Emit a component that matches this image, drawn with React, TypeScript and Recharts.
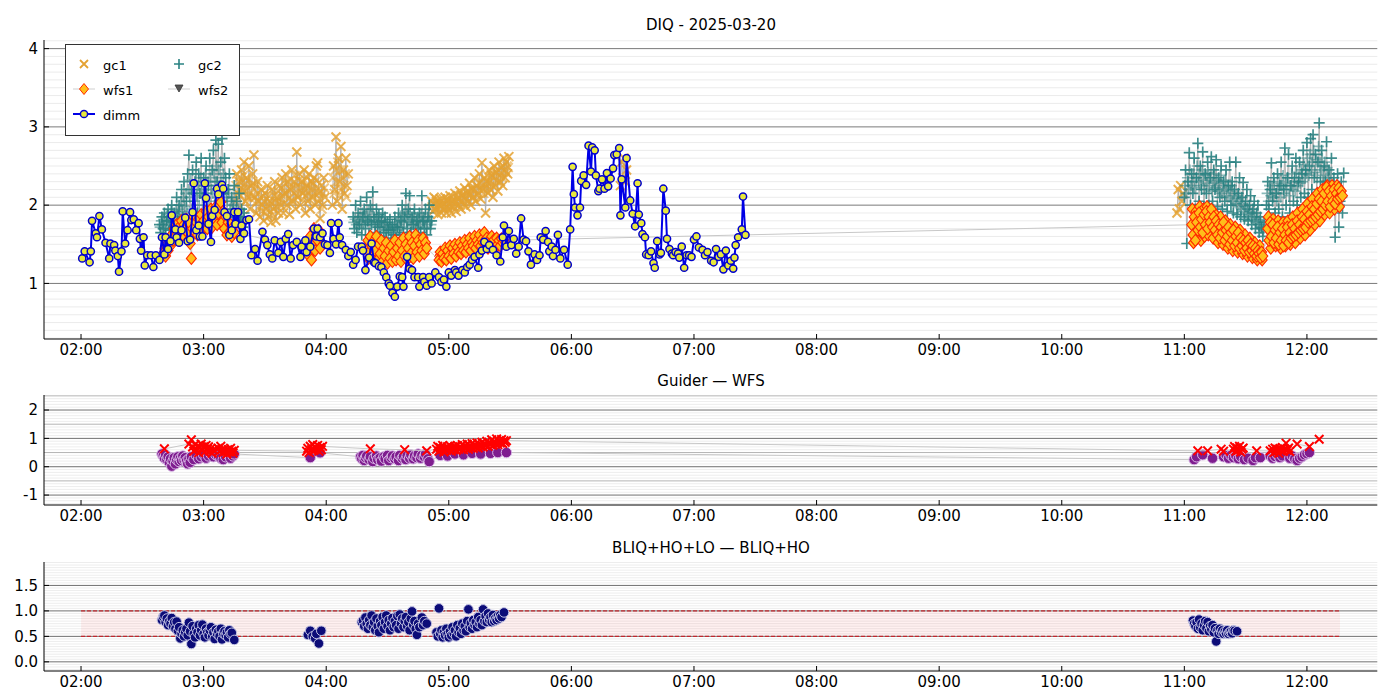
import React from 'react';
import { ScatterChart, Scatter, XAxis, YAxis, CartesianGrid, ReferenceLine, ReferenceArea } from 'recharts';

type P = [number, number];

// ---------- time axis ----------
const HOUR_TICKS = [2, 3, 4, 5, 6, 7, 8, 9, 10, 11, 12];
const X_DOMAIN: [number, number] = [1.698, 12.574];

// ---------- DIQ panel ----------
const dimm: P[] = [
  [2.01,1.32],[2.03,1.41],[2.07,1.27],[2.08,1.41],[2.09,1.80],[2.12,1.64],[2.13,1.59],[2.15,1.86],[2.17,1.69],[2.20,1.52],
  [2.23,1.32],[2.24,1.51],[2.27,1.49],[2.28,1.42],[2.30,1.35],[2.31,1.15],[2.33,1.41],[2.34,1.92],[2.36,1.51],[2.38,1.68],
  [2.40,1.91],[2.41,1.81],[2.43,1.82],[2.45,1.68],[2.47,1.77],[2.48,1.57],[2.49,1.42],[2.51,1.59],[2.52,1.23],[2.54,1.36],
  [2.57,1.36],[2.59,1.21],[2.61,1.36],[2.64,1.30],[2.66,1.59],[2.68,1.37],[2.69,1.59],[2.71,1.44],[2.73,1.54],[2.74,1.87],
  [2.77,1.69],[2.78,1.59],[2.80,1.52],[2.82,1.68],[2.85,1.84],[2.87,1.54],[2.89,1.56],[2.91,1.91],[2.92,2.28],[2.94,1.68],
  [2.96,1.74],[2.97,1.60],[2.99,1.60],[3.01,2.28],[3.02,2.09],[3.04,1.76],[3.06,1.53],[3.07,1.86],[3.09,1.94],[3.11,2.21],
  [3.12,2.14],[3.15,2.26],[3.16,2.21],[3.17,1.91],[3.19,1.86],[3.21,1.62],[3.23,1.68],[3.25,1.91],[3.26,1.76],[3.28,1.91],
  [3.30,1.57],[3.31,1.74],[3.33,1.64],[3.35,1.81],[3.37,1.82],[3.39,1.36],[3.42,1.44],[3.44,1.29],[3.48,1.66],[3.50,1.56],
  [3.52,1.49],[3.54,1.37],[3.56,1.32],[3.58,1.55],[3.61,1.39],[3.63,1.53],[3.65,1.34],[3.67,1.57],[3.69,1.63],[3.71,1.32],
  [3.73,1.49],[3.76,1.53],[3.79,1.34],[3.80,1.47],[3.83,1.55],[3.84,1.40],[3.87,1.47],[3.90,1.70],[3.92,1.60],[3.93,1.70],
  [3.95,1.59],[3.97,1.64],[3.99,1.50],[4.01,1.49],[4.03,1.39],[4.04,1.77],[4.06,1.57],[4.08,1.50],[4.10,1.77],[4.11,1.59],
  [4.13,1.49],[4.16,1.43],[4.18,1.35],[4.20,1.40],[4.22,1.24],[4.24,1.30],[4.26,1.47],[4.29,1.47],[4.30,1.42],[4.32,1.17],
  [4.35,1.33],[4.37,1.51],[4.39,1.27],[4.40,1.26],[4.43,1.22],[4.45,1.21],[4.47,1.14],[4.49,1.08],[4.51,1.00],[4.52,0.97],
  [4.54,0.88],[4.56,0.83],[4.58,0.96],[4.60,1.09],[4.62,1.08],[4.63,0.96],[4.66,1.34],[4.68,1.19],[4.70,1.17],[4.72,1.08],
  [4.75,1.08],[4.76,0.96],[4.79,1.08],[4.80,1.02],[4.82,0.97],[4.84,1.08],[4.86,1.00],[4.89,1.14],[4.92,1.08],[4.94,1.02],
  [4.96,1.05],[4.98,0.96],[5.00,1.14],[5.02,1.10],[5.05,1.17],[5.06,1.14],[5.08,1.10],[5.11,1.17],[5.13,1.14],[5.15,1.21],
  [5.17,1.24],[5.19,1.30],[5.21,1.34],[5.24,1.20],[5.25,1.37],[5.27,1.42],[5.29,1.53],[5.31,1.44],[5.33,1.49],[5.36,1.43],
  [5.39,1.36],[5.42,1.28],[5.44,1.59],[5.45,1.74],[5.47,1.47],[5.49,1.67],[5.51,1.49],[5.53,1.57],[5.55,1.38],[5.57,1.47],
  [5.59,1.83],[5.61,1.56],[5.63,1.54],[5.65,1.41],[5.67,1.24],[5.70,1.37],[5.72,1.30],[5.74,1.36],[5.75,1.59],[5.77,1.56],
  [5.79,1.67],[5.81,1.53],[5.82,1.41],[5.84,1.47],[5.85,1.35],[5.87,1.43],[5.89,1.62],[5.91,1.32],[5.94,1.43],[5.97,1.24],
  [5.99,1.69],[6.01,2.49],[6.02,2.14],[6.03,1.97],[6.05,1.87],[6.07,1.97],[6.08,2.31],[6.10,2.38],[6.12,2.26],[6.14,2.76],
  [6.16,2.43],[6.17,2.74],[6.19,2.70],[6.20,2.38],[6.22,2.18],[6.23,2.21],[6.25,2.33],[6.27,2.21],[6.29,2.41],[6.30,2.24],
  [6.32,2.34],[6.34,2.47],[6.35,2.64],[6.37,2.65],[6.39,2.73],[6.40,1.87],[6.41,2.33],[6.44,1.97],[6.45,2.60],[6.48,2.06],
  [6.50,1.89],[6.52,1.73],[6.54,2.28],[6.55,1.88],[6.57,1.77],[6.58,1.63],[6.60,1.59],[6.61,1.37],[6.63,1.36],[6.65,1.41],
  [6.67,1.26],[6.68,1.20],[6.70,1.54],[6.72,1.37],[6.73,1.39],[6.75,2.21],[6.77,1.93],[6.78,1.57],[6.80,1.44],[6.82,1.38],
  [6.83,1.36],[6.85,1.40],[6.87,1.38],[6.88,1.33],[6.90,1.47],[6.92,1.20],[6.94,1.36],[6.96,1.36],[6.98,1.34],[7.00,1.56],
  [7.02,1.60],[7.04,1.46],[7.07,1.43],[7.09,1.36],[7.11,1.40],[7.14,1.29],[7.16,1.27],[7.18,1.44],[7.20,1.34],[7.22,1.37],
  [7.24,1.18],[7.26,1.42],[7.28,1.23],[7.30,1.29],[7.32,1.19],[7.33,1.33],[7.34,1.49],[7.36,1.59],[7.39,1.69],[7.40,2.11],
  [7.42,1.62],
];

const gc1SegA: P[] = [
  [3.26,2.05],[3.27,2.40],[3.28,2.15],[3.29,2.30],[3.30,1.98],[3.31,2.45],[3.32,2.20],[3.33,2.55],[3.34,2.05],[3.35,2.35],
  [3.36,2.10],[3.37,2.50],[3.38,1.95],[3.39,2.25],[3.40,2.40],[3.41,2.64],[3.42,2.10],[3.43,1.90],[3.44,2.30],[3.45,2.05],
  [3.46,1.85],[3.47,2.20],[3.48,2.00],[3.49,1.80],[3.50,2.15],[3.51,1.95],[3.52,2.25],[3.53,1.85],[3.54,2.05],[3.55,1.78],
  [3.56,2.20],[3.57,1.95],[3.58,2.30],[3.59,1.80],[3.60,2.10],[3.61,1.90],[3.62,2.25],[3.63,2.00],[3.64,2.35],[3.65,1.90],
  [3.66,2.15],[3.67,2.40],[3.68,2.00],[3.69,2.30],[3.70,1.88],[3.71,2.20],[3.72,2.45],[3.73,2.05],[3.74,2.30],[3.75,1.95],
  [3.76,2.68],[3.77,2.10],[3.78,2.40],[3.79,2.00],[3.80,2.30],[3.81,2.15],[3.82,2.45],[3.83,1.90],[3.84,2.25],[3.85,2.05],
  [3.86,2.40],[3.87,1.95],[3.88,2.30],[3.89,2.10],[3.90,2.35],[3.91,2.00],[3.92,2.50],[3.93,2.54],[3.94,2.15],[3.95,1.83],
  [3.96,2.25],[3.97,2.00],[3.98,2.35],[3.99,2.10],
];
const gc1SegB: P[] = [
  [4.05,2.00],[4.06,2.50],[4.07,2.20],[4.08,2.87],[4.09,2.05],[4.10,2.60],[4.11,2.30],[4.12,2.75],[4.13,1.95],[4.14,2.45],
  [4.15,2.15],[4.16,2.60],[4.17,2.25],[4.18,2.40],
];
const gc1SegC: P[] = [
  [4.86,2.05],[4.87,1.92],[4.88,2.10],[4.89,1.95],[4.90,2.05],[4.91,1.88],[4.92,2.00],[4.93,2.08],[4.94,1.90],[4.95,2.02],
  [4.96,1.95],[4.97,2.10],[4.98,1.90],[4.99,2.05],[5.00,1.95],[5.01,2.12],[5.02,1.90],[5.03,2.05],[5.04,1.98],[5.05,2.15],
  [5.06,1.92],[5.07,2.08],[5.08,2.00],[5.09,2.18],[5.10,1.95],[5.11,2.12],[5.12,2.02],[5.13,2.22],[5.14,1.98],[5.15,2.15],
  [5.16,2.05],[5.17,2.28],[5.18,2.00],[5.19,2.20],[5.20,2.10],[5.21,2.35],[5.22,2.05],[5.23,2.25],[5.24,2.15],[5.25,2.40],
  [5.26,2.08],[5.27,2.54],[5.28,2.20],[5.29,2.35],[5.30,1.90],[5.31,2.30],[5.32,2.15],[5.33,2.45],[5.34,2.20],[5.35,2.38],
  [5.36,2.10],[5.37,2.50],[5.38,2.25],[5.39,2.42],[5.40,2.18],[5.41,2.55],[5.42,2.30],[5.43,2.48],[5.44,2.25],[5.45,2.60],
  [5.46,2.35],[5.47,2.55],[5.48,2.40],[5.49,2.62],
];
const gc1SegD: P[] = [[6.40,2.25],[6.41,2.55],[6.42,2.35],[6.43,2.60],[6.44,2.30],[6.45,2.45]];
const gc1SegE: P[] = [[10.94,1.90],[10.95,2.20],[10.96,1.95],[10.97,2.25],[10.98,2.05],[10.99,2.15]];
// extra gc1 samples inside the dense clouds (drawn without connector)
const gc1Fill: P[] = [
  [3.265,2.25],[3.275,2.10],[3.285,2.35],[3.295,2.20],[3.305,2.12],[3.315,2.30],[3.325,2.38],[3.335,2.18],[3.345,2.28],[3.355,2.22],
  [3.365,2.32],[3.375,2.15],[3.385,2.08],[3.395,2.12],[3.405,2.28],[3.415,2.20],[3.425,2.25],[3.435,2.05],[3.445,2.15],[3.455,1.98],
  [3.465,2.10],[3.475,1.92],[3.485,2.12],[3.495,2.05],[3.505,1.90],[3.515,2.08],[3.525,2.00],[3.535,2.12],[3.545,1.92],[3.555,2.02],
  [3.565,1.88],[3.575,2.12],[3.585,2.05],[3.595,1.98],[3.605,2.18],[3.615,2.05],[3.625,2.10],[3.635,2.22],[3.645,2.12],[3.655,2.02],
  [3.665,2.28],[3.675,2.15],[3.685,2.18],[3.695,2.08],[3.705,2.32],[3.715,2.05],[3.725,2.22],[3.735,2.15],[3.745,2.38],[3.755,2.12],
  [3.765,2.25],[3.775,2.32],[3.785,2.18],[3.795,2.22],[3.805,2.08],[3.815,2.30],[3.825,2.20],[3.835,2.12],[3.845,2.35],[3.855,2.18],
  [3.865,2.25],[3.875,2.10],[3.885,2.20],[3.895,2.28],[3.905,2.15],[3.915,2.22],[3.925,2.32],[3.935,2.05],[3.945,2.08],[3.955,2.18],
  [3.965,1.95],[3.975,2.15],[3.985,2.22],
  [4.055,2.35],[4.065,2.15],[4.075,2.45],[4.085,2.30],[4.095,2.55],[4.105,2.12],[4.115,2.45],[4.125,2.20],[4.135,2.35],[4.145,2.25],
  [4.155,2.40],[4.165,2.10],
  [4.865,1.98],[4.875,2.02],[4.885,1.95],[4.895,2.08],[4.905,1.98],[4.915,1.95],[4.925,2.05],[4.935,1.98],[4.945,2.00],[4.955,2.08],
  [4.965,1.95],[4.975,2.02],[4.985,1.98],[4.995,2.08],[5.005,2.02],[5.015,1.98],[5.025,2.05],[5.035,2.10],[5.045,2.02],[5.055,2.05],
  [5.065,2.00],[5.075,2.12],[5.085,2.08],[5.095,2.05],[5.105,2.12],[5.115,2.05],[5.125,2.15],[5.135,2.10],[5.145,2.08],[5.155,2.18],
  [5.165,2.12],[5.175,2.15],[5.185,2.22],[5.195,2.10],[5.205,2.20],[5.215,2.18],[5.225,2.25],[5.235,2.12],[5.245,2.28],[5.255,2.20],
  [5.265,2.30],[5.275,2.25],[5.285,2.15],[5.295,2.28],[5.305,2.22],[5.315,2.38],[5.325,2.28],[5.335,2.30],[5.345,2.40],[5.355,2.25],
  [5.365,2.35],[5.375,2.42],[5.385,2.32],[5.395,2.30],[5.405,2.45],[5.415,2.38],[5.425,2.42],[5.435,2.35],[5.445,2.50],[5.455,2.45],
  [5.465,2.42],[5.475,2.50],[5.485,2.48],
];

const gc2SegA: P[] = [
  [2.64,1.75],[2.65,1.65],[2.66,1.85],[2.67,1.70],[2.68,1.90],[2.69,1.62],[2.70,1.80],[2.71,1.95],[2.72,1.68],[2.73,1.85],
  [2.74,2.00],[2.75,1.72],[2.76,1.90],[2.77,1.65],[2.78,2.10],[2.79,1.80],[2.80,2.00],[2.81,1.70],[2.82,2.20],[2.83,1.85],
  [2.84,2.30],[2.85,1.75],[2.86,2.05],[2.87,2.40],[2.88,2.64],[2.89,1.80],[2.90,2.20],[2.91,2.45],[2.92,1.75],[2.93,2.30],
  [2.94,2.55],[2.95,1.90],[2.96,2.40],[2.97,2.15],[2.98,2.60],[2.99,1.80],[3.00,2.35],[3.01,2.10],[3.02,2.50],[3.03,1.85],
  [3.04,2.25],[3.05,2.60],[3.06,1.95],[3.07,2.45],[3.08,2.70],[3.09,2.00],[3.10,2.83],[3.11,2.30],[3.12,2.78],[3.13,1.90],
  [3.14,2.55],[3.15,2.85],[3.16,2.15],[3.17,2.60],[3.18,2.35],[3.19,1.85],[3.20,2.20],[3.21,2.40],[3.22,1.80],[3.23,2.10],
  [3.24,1.95],[3.25,2.25],[3.26,1.75],[3.27,2.05],[3.28,1.85],[3.29,2.15],[3.30,1.80],[3.31,1.95],[3.32,1.72],[3.33,1.90],
];
const gc2SegB: P[] = [
  [4.22,1.85],[4.23,1.70],[4.24,2.00],[4.25,1.65],[4.26,1.90],[4.27,1.75],[4.28,2.05],[4.29,1.62],[4.30,1.85],[4.31,1.95],
  [4.32,1.70],[4.33,2.10],[4.34,1.80],[4.35,1.62],[4.36,2.00],[4.37,1.75],[4.38,2.17],[4.39,1.85],[4.40,1.65],[4.41,1.95],
  [4.42,1.72],[4.43,1.88],[4.44,1.60],[4.45,1.80],[4.46,1.90],[4.47,1.65],[4.48,1.85],[4.49,1.58],[4.50,1.78],[4.51,1.68],
  [4.52,1.82],[4.53,1.55],[4.54,1.75],[4.55,1.62],[4.56,1.85],[4.57,1.58],[4.58,1.72],[4.59,1.90],[4.60,1.62],[4.61,1.80],
  [4.62,2.00],[4.63,1.65],[4.64,1.85],[4.65,2.15],[4.66,1.70],[4.67,1.95],[4.68,2.12],[4.69,1.65],[4.70,1.85],[4.71,1.75],
  [4.72,1.95],[4.73,1.62],[4.74,1.80],[4.75,1.70],[4.76,1.90],[4.77,1.65],[4.78,2.12],[4.79,1.80],[4.80,1.70],[4.81,1.95],
  [4.82,1.62],[4.83,1.85],[4.84,2.00],[4.85,1.70],[4.86,1.80],
];
const gc2SegC: P[] = [
  [11.00,2.10],[11.01,2.45],[11.02,1.51],[11.03,2.30],[11.04,2.67],[11.05,2.00],[11.06,2.40],[11.07,2.15],[11.08,2.60],[11.09,1.95],
  [11.10,2.35],[11.11,2.79],[11.12,2.05],[11.13,2.50],[11.14,2.20],[11.15,2.68],[11.16,1.98],[11.17,2.40],[11.18,2.15],[11.19,2.55],
  [11.20,2.00],[11.21,2.35],[11.22,2.62],[11.23,2.05],[11.24,2.45],[11.25,2.20],[11.26,2.58],[11.27,1.98],[11.28,2.35],[11.29,2.10],
  [11.30,2.50],[11.31,1.95],[11.32,2.30],[11.33,2.05],[11.34,2.45],[11.35,1.92],[11.36,2.25],[11.37,2.55],[11.38,2.00],[11.39,2.30],
  [11.40,1.90],[11.41,2.20],[11.42,2.55],[11.43,1.88],[11.44,2.15],[11.45,2.35],[11.46,1.85],[11.47,2.10],[11.48,2.29],[11.49,1.82],
  [11.50,2.05],[11.51,2.20],[11.52,1.80],[11.53,2.00],[11.54,2.12],[11.55,1.75],[11.56,1.95],[11.57,2.05],[11.58,1.70],[11.59,1.90],
  [11.60,2.00],[11.61,1.65],[11.62,1.85],[11.63,1.72],[11.64,1.60],[11.65,1.78],
];
const gc2SegD: P[] = [
  [11.67,2.00],[11.68,2.30],[11.69,1.95],[11.70,2.20],[11.71,2.54],[11.72,2.05],[11.73,2.35],[11.74,1.90],[11.75,2.15],[11.76,2.40],
  [11.77,1.95],[11.78,2.25],[11.79,2.55],[11.80,1.85],[11.81,2.20],[11.82,2.73],[11.83,2.00],[11.84,2.35],[11.85,2.65],[11.86,1.90],
  [11.87,2.25],[11.88,2.50],[11.89,2.05],[11.90,2.35],[11.91,2.60],[11.92,2.00],[11.93,2.30],[11.94,2.55],[11.95,2.10],[11.96,2.40],
  [11.97,2.70],[11.98,2.15],[11.99,2.45],[12.00,2.80],[12.01,2.10],[12.02,2.50],[12.03,2.85],[12.04,2.20],[12.05,2.90],[12.06,2.35],
  [12.07,2.65],[12.08,2.15],[12.09,2.55],[12.10,3.05],[12.11,2.30],[12.12,2.70],[12.13,2.10],[12.14,2.50],[12.15,2.30],[12.16,2.81],
  [12.17,2.05],[12.18,2.45],[12.19,2.20],[12.20,2.60],[12.21,1.95],[12.22,2.35],[12.23,1.59],[12.24,2.15],[12.25,2.40],[12.26,1.72],
  [12.27,2.05],[12.28,2.30],[12.29,1.90],[12.30,2.41],
];
const gc2Fill: P[] = [
  [2.645,1.72],[2.655,1.80],[2.665,1.75],[2.675,1.82],[2.685,1.70],[2.695,1.78],[2.705,1.88],[2.715,1.75],[2.725,1.80],[2.735,1.92],
  [2.745,1.78],[2.755,1.85],[2.765,1.75],[2.775,1.92],[2.785,1.88],[2.795,1.95],[2.805,1.82],[2.815,2.05],[2.825,1.92],[2.835,2.10],
  [2.845,1.98],[2.855,2.15],[2.865,1.90],[2.875,2.20],[2.885,2.10],[2.895,2.32],[2.905,1.95],[2.915,2.15],[2.925,2.05],[2.935,2.40],
  [2.945,2.12],[2.955,2.25],[2.965,2.00],[2.975,2.35],[2.985,2.20],[2.995,2.10],[3.005,2.25],[3.015,2.40],[3.025,2.15],[3.035,2.30],
  [3.045,2.05],[3.055,2.35],[3.065,2.20],[3.075,2.15],[3.085,2.40],[3.095,2.30],[3.105,2.50],[3.115,2.10],[3.125,2.45],[3.135,2.25],
  [3.145,2.35],[3.155,2.05],[3.165,2.40],[3.175,2.20],[3.185,2.10],[3.195,2.05],[3.205,2.15],[3.215,1.95],[3.225,2.05],[3.235,1.90],
  [3.245,2.00],[3.255,1.85],[3.265,1.95],[3.275,1.80],[3.285,1.92],[3.295,1.78],[3.305,1.85],[3.315,1.80],[3.325,1.82],
  [4.225,1.78],[4.235,1.82],[4.245,1.75],[4.255,1.80],[4.265,1.72],[4.275,1.85],[4.285,1.78],[4.295,1.90],[4.305,1.75],[4.315,1.82],
  [4.325,1.88],[4.335,1.78],[4.345,1.92],[4.355,1.85],[4.365,1.78],[4.375,1.95],[4.385,1.82],[4.395,1.75],[4.405,1.80],[4.415,1.85],
  [4.425,1.78],[4.435,1.72],[4.445,1.78],[4.455,1.70],[4.465,1.75],[4.475,1.78],[4.485,1.68],[4.495,1.72],[4.505,1.65],[4.515,1.75],
  [4.525,1.68],[4.535,1.70],[4.545,1.65],[4.555,1.72],[4.565,1.70],[4.575,1.78],[4.585,1.68],[4.595,1.75],[4.605,1.82],[4.615,1.72],
  [4.625,1.88],[4.635,1.78],[4.645,1.92],[4.655,1.80],[4.665,1.88],[4.675,1.78],[4.685,1.90],[4.695,1.75],[4.705,1.82],[4.715,1.88],
  [4.725,1.78],[4.735,1.72],[4.745,1.85],[4.755,1.80],[4.765,1.75],[4.775,1.88],[4.785,1.78],[4.795,1.85],[4.805,1.82],[4.815,1.72],
  [4.825,1.78],[4.835,1.90],[4.845,1.80],[4.855,1.75],
  [11.005,2.25],[11.015,2.15],[11.025,2.35],[11.035,2.20],[11.045,2.45],[11.055,2.25],[11.065,2.30],[11.075,2.40],[11.085,2.22],[11.095,2.35],
  [11.105,2.50],[11.115,2.30],[11.125,2.40],[11.135,2.25],[11.145,2.45],[11.155,2.32],[11.165,2.20],[11.175,2.38],[11.185,2.28],[11.195,2.42],
  [11.205,2.25],[11.215,2.35],[11.225,2.18],[11.235,2.30],[11.245,2.40],[11.255,2.22],[11.265,2.32],[11.275,2.18],[11.285,2.28],[11.295,2.38],
  [11.305,2.15],[11.315,2.25],[11.325,2.20],[11.335,2.32],[11.345,2.12],[11.355,2.22],[11.365,2.10],[11.375,2.18],[11.385,2.25],[11.395,2.05],
  [11.405,2.15],[11.415,2.08],[11.425,2.02],[11.435,2.12],[11.445,1.98],[11.455,2.05],[11.465,1.95],[11.475,2.02],[11.485,1.92],[11.495,1.98],
  [11.505,1.90],[11.515,1.95],[11.525,1.88],[11.535,1.92],[11.545,1.85],[11.555,1.90],[11.565,1.82],[11.575,1.85],[11.585,1.78],[11.595,1.82],
  [11.605,1.75],[11.615,1.80],[11.625,1.70],[11.635,1.75],[11.645,1.68],
  [11.675,2.15],[11.685,2.05],[11.695,2.25],[11.705,2.12],[11.715,2.20],[11.725,2.10],[11.735,2.28],[11.745,2.15],[11.755,2.05],[11.765,2.20],
  [11.775,2.30],[11.785,2.10],[11.795,2.25],[11.805,2.38],[11.815,2.15],[11.825,2.28],[11.835,2.20],[11.845,2.35],[11.855,2.12],[11.865,2.25],
  [11.875,2.40],[11.885,2.20],[11.895,2.30],[11.905,2.18],[11.915,2.42],[11.925,2.25],[11.935,2.35],[11.945,2.28],[11.955,2.45],[11.965,2.30],
  [11.975,2.52],[11.985,2.35],[11.995,2.40],[12.005,2.60],[12.015,2.38],[12.025,2.65],[12.035,2.45],[12.045,2.55],[12.055,2.70],[12.065,2.42],
  [12.075,2.58],[12.085,2.35],[12.095,2.75],[12.105,2.50],[12.115,2.45],[12.125,2.60],[12.135,2.38],[12.145,2.55],[12.155,2.30],[12.165,2.48],
  [12.175,2.35],[12.185,2.28],[12.195,2.40],[12.205,2.18],[12.215,2.25],[12.225,2.10],[12.235,2.20],[12.245,2.05],[12.255,2.15],[12.265,2.00],
  [12.275,2.18],[12.285,2.10],
];

const wfs1: P[] = [
  [2.68,1.40],[2.69,1.35],[2.70,1.50],[2.71,1.42],[2.72,1.58],[2.73,1.48],[2.74,1.62],[2.75,1.55],[2.76,1.70],[2.77,1.60],
  [2.78,1.75],[2.79,1.58],[2.80,1.72],[2.81,1.65],[2.82,1.80],[2.83,1.62],[2.84,1.75],[2.85,1.68],[2.86,1.82],[2.87,1.65],
  [2.88,1.78],[2.89,1.51],[2.90,1.32],[2.91,1.70],[2.92,1.85],[2.93,1.65],[2.94,1.78],[2.95,1.62],[2.96,1.82],[2.97,1.70],
  [2.98,1.88],[2.99,1.68],[3.00,1.80],[3.01,1.72],[3.02,1.92],[3.03,1.70],[3.04,1.85],[3.05,1.75],[3.06,1.95],[3.07,1.72],
  [3.08,1.88],[3.09,1.80],[3.10,1.98],[3.11,1.75],[3.12,1.90],[3.13,2.00],[3.14,2.04],[3.15,1.78],[3.16,1.92],[3.17,1.70],
  [3.18,1.85],[3.19,1.62],[3.20,1.78],[3.21,1.65],[3.22,1.75],[3.23,1.60],[3.24,1.72],[3.25,1.65],
  [3.85,1.45],[3.86,1.35],[3.87,1.60],[3.88,1.30],[3.89,1.50],[3.90,1.70],[3.91,1.42],[3.92,1.62],[3.93,1.55],[3.94,1.68],[3.95,1.45],
  [4.33,1.45],[4.34,1.55],[4.35,1.40],[4.36,1.60],[4.37,1.48],[4.38,1.35],[4.39,1.55],[4.40,1.42],[4.41,1.60],[4.42,1.30],
  [4.43,1.50],[4.44,1.38],[4.45,1.55],[4.46,1.28],[4.47,1.45],[4.48,1.35],[4.49,1.52],[4.50,1.26],[4.51,1.42],[4.52,1.32],
  [4.53,1.48],[4.54,1.28],[4.55,1.40],[4.56,1.55],[4.57,1.30],[4.58,1.45],[4.59,1.35],[4.60,1.52],[4.61,1.28],[4.62,1.42],
  [4.63,1.58],[4.64,1.35],[4.65,1.50],[4.66,1.30],[4.67,1.45],[4.68,1.60],[4.69,1.38],[4.70,1.52],[4.71,1.32],[4.72,1.48],
  [4.73,1.62],[4.74,1.40],[4.75,1.55],[4.76,1.35],[4.77,1.50],[4.78,1.42],[4.79,1.58],[4.80,1.38],[4.81,1.52],[4.82,1.45],
  [4.92,1.30],[4.93,1.40],[4.94,1.28],[4.95,1.38],[4.96,1.32],[4.97,1.45],[4.98,1.30],[4.99,1.42],[5.00,1.35],[5.01,1.48],
  [5.02,1.32],[5.03,1.45],[5.04,1.38],[5.05,1.50],[5.06,1.35],[5.07,1.46],[5.08,1.40],[5.09,1.52],[5.10,1.38],[5.11,1.48],
  [5.12,1.42],[5.13,1.55],[5.14,1.40],[5.15,1.50],[5.16,1.45],[5.17,1.58],[5.18,1.42],[5.19,1.52],[5.20,1.48],[5.21,1.60],
  [5.22,1.45],[5.23,1.55],[5.24,1.50],[5.25,1.62],[5.26,1.48],[5.27,1.56],[5.28,1.52],[5.29,1.65],[5.30,1.50],[5.31,1.58],
  [5.32,1.45],[5.33,1.55],[5.34,1.50],[5.35,1.60],[5.36,1.48],[5.37,1.56],[5.38,1.45],[5.39,1.58],[5.40,1.50],[5.41,1.55],
  [5.42,1.48],[5.43,1.57],[5.44,1.52],[5.45,1.55],
  [11.06,1.75],[11.07,1.62],[11.08,1.85],[11.09,1.55],[11.10,1.78],[11.11,1.68],[11.12,1.90],[11.13,1.72],[11.14,1.82],[11.15,1.65],
  [11.16,1.88],[11.17,1.75],[11.18,1.92],[11.19,1.70],[11.20,1.85],[11.21,1.78],[11.22,1.95],[11.23,1.72],[11.24,1.85],[11.25,1.68],
  [11.26,1.80],[11.27,1.62],[11.28,1.75],[11.29,1.58],[11.30,1.72],[11.31,1.65],[11.32,1.78],[11.33,1.55],[11.34,1.68],[11.35,1.60],
  [11.36,1.72],[11.37,1.50],[11.38,1.65],[11.39,1.55],[11.40,1.68],[11.41,1.48],[11.42,1.60],[11.43,1.52],[11.44,1.65],[11.45,1.45],
  [11.46,1.58],[11.47,1.48],[11.48,1.55],[11.49,1.42],[11.50,1.52],[11.51,1.45],[11.52,1.55],[11.53,1.40],[11.54,1.50],[11.55,1.42],
  [11.56,1.48],[11.57,1.38],[11.58,1.45],[11.59,1.35],[11.60,1.42],[11.61,1.38],[11.62,1.33],[11.63,1.40],[11.64,1.35],
  [11.68,1.70],[11.69,1.55],[11.70,1.78],[11.71,1.60],[11.72,1.75],[11.73,1.52],[11.74,1.68],[11.75,1.58],[11.76,1.72],[11.77,1.50],
  [11.78,1.65],[11.79,1.55],[11.80,1.70],[11.81,1.48],[11.82,1.62],[11.83,1.55],[11.84,1.72],[11.85,1.52],[11.86,1.65],[11.87,1.58],
  [11.88,1.75],[11.89,1.60],[11.90,1.70],[11.91,1.62],[11.92,1.80],[11.93,1.65],[11.94,1.75],[11.95,1.68],[11.96,1.85],[11.97,1.70],
  [11.98,1.82],[11.99,1.72],[12.00,1.92],[12.01,1.78],[12.02,1.88],[12.03,1.80],[12.04,1.98],[12.05,1.82],[12.06,1.95],[12.07,1.85],
  [12.08,2.02],[12.09,1.88],[12.10,2.08],[12.11,1.92],[12.12,2.05],[12.13,1.95],[12.14,2.15],[12.15,2.00],[12.16,2.23],[12.17,2.05],
  [12.18,2.18],[12.19,1.98],[12.20,2.12],[12.21,2.05],[12.22,2.20],[12.23,2.02],[12.24,2.15],[12.25,2.08],[12.26,2.22],[12.27,2.10],
  [12.28,2.18],[12.29,2.12],
];
const wfs1Fill: P[] = [
  [2.685,1.45],[2.705,1.45],[2.725,1.52],[2.745,1.58],[2.765,1.65],[2.785,1.68],[2.805,1.68],[2.825,1.72],[2.845,1.72],[2.865,1.75],
  [2.885,1.72],[2.915,1.78],[2.935,1.72],[2.955,1.75],[2.975,1.80],[2.995,1.75],[3.015,1.82],[3.035,1.78],[3.055,1.85],[3.075,1.80],
  [3.095,1.90],[3.115,1.85],[3.135,1.92],[3.155,1.85],[3.175,1.78],[3.195,1.72],[3.215,1.70],[3.235,1.68],
  [4.345,1.32],[4.365,1.52],[4.385,1.45],[4.405,1.35],[4.425,1.48],[4.445,1.42],[4.465,1.36],[4.485,1.44],[4.505,1.38],[4.525,1.40],
  [4.545,1.35],[4.565,1.42],[4.585,1.38],[4.605,1.45],[4.625,1.36],[4.645,1.42],[4.665,1.50],[4.685,1.45],[4.705,1.40],[4.725,1.55],
  [4.745,1.48],[4.765,1.42],[4.785,1.50],[4.805,1.45],
  [4.925,1.35],[4.945,1.34],[4.965,1.40],[4.985,1.36],[5.005,1.42],[5.025,1.38],[5.045,1.44],[5.065,1.42],[5.085,1.46],[5.105,1.44],
  [5.125,1.48],[5.145,1.46],[5.165,1.52],[5.185,1.48],[5.205,1.54],[5.225,1.50],[5.245,1.56],[5.265,1.54],[5.285,1.58],[5.305,1.55],
  [5.325,1.52],[5.345,1.55],[5.365,1.52],[5.385,1.55],[5.405,1.53],[5.425,1.52],
  [11.065,1.95],[11.075,1.52],[11.095,1.92],[11.105,1.58],[11.125,1.98],[11.135,1.55],[11.155,1.95],[11.165,1.60],[11.185,1.98],[11.195,1.62],
  [11.215,1.90],[11.235,1.58],[11.255,1.88],[11.275,1.52],[11.295,1.85],[11.315,1.50],[11.335,1.80],[11.355,1.45],[11.375,1.75],[11.395,1.42],
  [11.415,1.72],[11.435,1.40],[11.455,1.68],[11.475,1.38],[11.495,1.62],[11.515,1.35],[11.535,1.58],[11.555,1.33],[11.575,1.52],[11.595,1.30],
  [11.615,1.48],[11.635,1.30],
  [11.685,1.85],[11.705,1.45],[11.725,1.82],[11.745,1.48],[11.765,1.80],[11.785,1.45],[11.805,1.78],[11.825,1.48],[11.845,1.80],[11.865,1.50],
  [11.885,1.85],[11.905,1.52],[11.925,1.90],[11.945,1.58],[11.965,1.95],[11.985,1.62],[12.005,2.02],[12.025,1.68],[12.045,2.08],[12.065,1.75],
  [12.085,2.15],[12.105,1.80],[12.125,2.20],[12.145,1.88],[12.165,2.25],[12.185,1.90],[12.205,2.25],[12.225,1.95],[12.245,2.25],[12.265,1.98],
];
const wfs2: P[] = [];

// ---------- Guider — WFS panel ----------
const guiderRed: P[] = [
  [2.68,0.63],[2.88,0.80],[2.90,0.95],[2.91,0.70],[2.92,0.55],[2.93,0.78],[2.94,0.62],[2.95,0.72],[2.96,0.50],[2.97,0.68],
  [2.98,0.80],[2.99,0.58],[3.00,0.70],[3.01,0.52],[3.02,0.75],[3.03,0.62],[3.04,0.70],[3.05,0.55],[3.06,0.65],[3.07,0.48],
  [3.08,0.60],[3.12,0.65],[3.13,0.55],[3.14,0.72],[3.15,0.60],[3.16,0.50],[3.17,0.62],[3.18,0.55],[3.19,0.45],[3.20,0.60],
  [3.21,0.52],[3.22,0.65],[3.23,0.55],[3.24,0.48],[3.25,0.58],
  [3.84,0.55],[3.85,0.65],[3.86,0.50],[3.87,0.72],[3.88,0.60],[3.89,0.78],[3.90,0.58],[3.91,0.70],[3.92,0.62],[3.93,0.75],
  [3.94,0.55],[3.95,0.68],[3.96,0.60],[3.97,0.72],
  [4.36,0.63],[4.64,0.60],[4.82,0.56],
  [4.90,0.62],[4.91,0.72],[4.92,0.55],[4.93,0.68],[4.94,0.60],[4.95,0.75],[4.96,0.52],[4.97,0.66],[4.98,0.58],[4.99,0.70],
  [5.00,0.62],[5.01,0.74],[5.02,0.55],[5.03,0.68],[5.04,0.60],[5.05,0.72],[5.06,0.58],[5.07,0.75],[5.08,0.62],[5.09,0.70],
  [5.10,0.65],[5.11,0.78],[5.12,0.60],[5.13,0.72],[5.14,0.66],[5.15,0.80],[5.16,0.62],[5.17,0.74],[5.18,0.68],[5.19,0.82],
  [5.20,0.65],[5.21,0.76],[5.22,0.70],[5.23,0.84],[5.24,0.66],[5.25,0.78],[5.26,0.72],[5.27,0.86],[5.28,0.70],[5.29,0.80],
  [5.30,0.75],[5.31,0.90],[5.32,0.72],[5.33,0.84],[5.34,0.78],[5.35,0.95],[5.36,0.76],[5.37,0.88],[5.38,0.80],[5.39,0.98],
  [5.40,0.78],[5.41,0.90],[5.42,0.84],[5.43,0.96],[5.44,0.82],[5.45,0.92],[5.46,0.86],[5.47,0.92],
  [11.11,0.56],[11.19,0.56],[11.30,0.62],[11.32,0.55],[11.40,0.62],[11.41,0.71],[11.42,0.55],[11.43,0.66],[11.44,0.58],[11.45,0.72],
  [11.46,0.52],[11.47,0.62],[11.48,0.66],[11.59,0.56],[11.70,0.56],[11.72,0.62],[11.73,0.50],[11.74,0.66],[11.75,0.55],[11.76,0.62],
  [11.77,0.48],[11.78,0.64],[11.79,0.56],[11.80,0.68],[11.81,0.55],[11.82,0.62],[11.83,0.83],[11.84,0.58],[11.85,0.66],[11.86,0.54],
  [11.92,0.80],[12.02,0.71],[12.10,0.97],
];
const guiderPurple: P[] = [
  [2.66,0.45],[2.67,0.38],[2.68,0.30],[2.69,0.42],[2.70,0.25],[2.71,0.35],[2.72,0.15],[2.73,0.28],[2.74,0.02],[2.75,0.20],
  [2.76,0.32],[2.77,0.10],[2.78,0.25],[2.79,0.35],[2.80,0.18],[2.81,0.30],[2.82,0.22],[2.83,0.38],[2.84,0.25],[2.85,0.32],
  [2.86,0.20],[2.87,0.10],[2.88,0.28],[2.89,0.15],[2.90,0.35],[2.92,0.25],[2.94,0.40],[2.96,0.28],[2.98,0.35],[3.00,0.42],
  [3.02,0.30],[3.04,0.38],[3.06,0.45],[3.08,0.35],[3.10,0.42],[3.12,0.38],[3.14,0.30],[3.16,0.25],[3.18,0.35],[3.20,0.42],
  [3.22,0.30],[3.24,0.38],[3.25,0.45],
  [3.87,0.32],[3.95,0.49],
  [4.28,0.35],[4.29,0.28],[4.30,0.40],[4.31,0.22],[4.32,0.32],[4.33,0.38],[4.35,0.25],[4.36,0.35],[4.38,0.18],[4.39,0.30],
  [4.41,0.38],[4.42,0.25],[4.44,0.32],[4.45,0.20],[4.47,0.35],[4.48,0.28],[4.50,0.40],[4.51,0.22],[4.53,0.32],[4.54,0.38],
  [4.56,0.28],[4.57,0.35],[4.59,0.22],[4.60,0.40],[4.62,0.30],[4.63,0.36],[4.65,0.25],[4.66,0.40],[4.68,0.30],[4.69,0.42],
  [4.71,0.28],[4.72,0.38],[4.74,0.32],[4.75,0.45],[4.77,0.30],[4.78,0.40],[4.80,0.35],[4.81,0.45],[4.83,0.28],[4.84,0.18],
  [4.93,0.40],[4.99,0.38],[5.05,0.45],[5.12,0.42],[5.19,0.47],[5.26,0.45],[5.34,0.47],[5.40,0.50],[5.47,0.50],
  [11.08,0.25],[11.10,0.35],[11.15,0.42],[11.23,0.30],[11.32,0.35],[11.34,0.42],[11.36,0.30],[11.38,0.40],[11.40,0.32],[11.42,0.38],
  [11.44,0.28],[11.46,0.35],[11.49,0.25],[11.52,0.30],[11.56,0.22],[11.58,0.32],[11.62,0.32],[11.70,0.38],[11.72,0.30],[11.74,0.36],
  [11.76,0.42],[11.78,0.32],[11.80,0.38],[11.86,0.30],[11.88,0.38],[11.90,0.28],[11.92,0.22],[11.94,0.30],[11.96,0.35],[11.98,0.42],
  [12.00,0.46],[12.02,0.50],
];

// ---------- BLIQ+HO+LO — BLIQ+HO panel ----------
const bliq: P[] = [
  [2.66,0.82],[2.67,0.88],[2.68,0.91],[2.69,0.78],[2.70,0.85],[2.71,0.72],[2.72,0.80],[2.73,0.75],[2.74,0.86],[2.75,0.70],
  [2.76,0.78],[2.77,0.65],[2.78,0.79],[2.79,0.61],[2.80,0.68],[2.81,0.46],[2.82,0.55],[2.83,0.62],[2.84,0.50],[2.85,0.58],
  [2.86,0.65],[2.87,0.52],[2.88,0.77],[2.89,0.60],[2.90,0.35],[2.91,0.70],[2.92,0.55],[2.93,0.48],[2.94,0.65],[2.95,0.58],
  [2.96,0.72],[2.97,0.52],[2.98,0.62],[2.99,0.73],[3.00,0.55],[3.01,0.48],[3.02,0.65],[3.03,0.58],[3.04,0.52],[3.05,0.62],
  [3.06,0.68],[3.07,0.50],[3.08,0.58],[3.09,0.45],[3.10,0.63],[3.11,0.55],[3.12,0.60],[3.13,0.50],[3.14,0.65],[3.15,0.44],
  [3.16,0.56],[3.17,0.60],[3.18,0.52],[3.19,0.58],[3.20,0.48],[3.21,0.62],[3.22,0.55],[3.23,0.57],[3.25,0.43],
  [3.85,0.53],[3.87,0.61],[3.89,0.50],[3.91,0.46],[3.92,0.55],[3.94,0.36],[3.96,0.61],
  [4.29,0.78],[4.30,0.81],[4.31,0.70],[4.32,0.87],[4.33,0.75],[4.34,0.65],[4.35,0.82],[4.36,0.72],[4.37,0.91],[4.38,0.68],
  [4.39,0.78],[4.40,0.62],[4.41,0.85],[4.42,0.70],[4.43,0.58],[4.44,0.80],[4.45,0.72],[4.46,0.88],[4.47,0.65],[4.48,0.78],
  [4.49,0.91],[4.50,0.70],[4.51,0.82],[4.52,0.62],[4.53,0.75],[4.54,0.86],[4.55,0.68],[4.56,0.80],[4.57,0.72],[4.58,0.90],
  [4.59,0.65],[4.60,0.93],[4.61,0.75],[4.62,0.85],[4.63,0.68],[4.64,0.80],[4.65,0.88],[4.66,0.70],[4.67,0.78],[4.68,0.62],
  [4.69,0.85],[4.70,0.99],[4.71,0.72],[4.72,0.80],[4.73,0.65],[4.74,0.53],[4.75,0.75],[4.76,0.68],[4.78,0.87],[4.79,0.72],
  [4.80,0.80],[4.82,0.75],
  [4.90,0.58],[4.91,0.50],[4.92,1.05],[4.93,0.55],[4.94,0.62],[4.95,0.48],[4.96,0.58],[4.97,0.52],[4.98,0.65],[4.99,0.55],
  [5.00,0.48],[5.01,0.60],[5.02,0.52],[5.03,0.68],[5.04,0.56],[5.05,0.62],[5.06,0.50],[5.07,0.72],[5.08,0.58],[5.09,0.66],
  [5.10,0.55],[5.11,0.75],[5.12,0.62],[5.13,0.70],[5.14,0.60],[5.15,0.80],[5.16,1.03],[5.17,0.68],[5.18,0.76],[5.19,0.65],
  [5.20,0.82],[5.21,0.72],[5.22,0.78],[5.23,0.68],[5.24,0.88],[5.25,0.75],[5.26,0.82],[5.27,0.72],[5.28,1.03],[5.29,0.80],
  [5.30,0.90],[5.31,0.78],[5.32,0.95],[5.33,0.82],[5.34,0.88],[5.35,0.78],[5.36,0.92],[5.37,0.80],[5.38,0.86],[5.39,0.82],
  [5.40,0.90],[5.41,0.85],[5.42,0.92],[5.43,0.88],[5.45,0.97],
  [11.07,0.81],[11.08,0.75],[11.09,0.70],[11.10,0.78],[11.11,0.65],[11.12,0.83],[11.13,0.67],[11.14,0.75],[11.15,0.62],[11.16,0.72],
  [11.17,0.80],[11.18,0.66],[11.19,0.78],[11.20,0.60],[11.21,0.70],[11.22,0.64],[11.23,0.72],[11.24,0.58],[11.25,0.66],[11.26,0.40],
  [11.27,0.62],[11.28,0.55],[11.29,0.65],[11.30,0.58],[11.31,0.62],[11.32,0.55],[11.33,0.60],[11.34,0.56],[11.35,0.62],[11.36,0.55],
  [11.37,0.58],[11.38,0.60],[11.39,0.56],[11.40,0.62],[11.41,0.61],[11.43,0.60],
];
const BAND_X: [number, number] = [2.0, 12.27];
const BAND_Y: [number, number] = [0.5, 1.0];

// ---------- helpers ----------
const pts = (a: P[]) => a.map(([t, v]) => ({ t, v }));
const FONT = 'DejaVu Sans, Verdana, sans-serif';
const fmtHour = (h: number) => `${String(h).padStart(2, '0')}:00`;
const TICK_SIZE = 5;
const TICK_MARGIN = 1;

const XTick = (props: any) => {
  const { x, y, payload } = props;
  const ay = y - TICK_SIZE - TICK_MARGIN;
  return (
    <g>
      <line x1={x} x2={x} y1={ay} y2={ay - 5} stroke="#000" strokeWidth={1} />
      <text x={x} y={ay + 5} dy="0.71em" textAnchor="middle" fontSize={15} fontFamily={FONT} fill="#000">
        {fmtHour(payload.value)}
      </text>
    </g>
  );
};
const makeYTick = (fmt: (v: number) => string) => (props: any) => {
  const { x, y, payload } = props;
  const ax = x + TICK_SIZE + TICK_MARGIN;
  return (
    <g>
      <line x1={ax} x2={ax + 5} y1={y} y2={y} stroke="#000" strokeWidth={1} />
      <text x={ax - 6} y={y} dy="0.355em" textAnchor="end" fontSize={15} fontFamily={FONT} fill="#000">
        {fmt(payload.value)}
      </text>
    </g>
  );
};

const crossShape = (color: string, s: number, w: number, op = 1) => (p: any) => (
  <path
    d={`M${p.cx - s} ${p.cy - s}L${p.cx + s} ${p.cy + s}M${p.cx - s} ${p.cy + s}L${p.cx + s} ${p.cy - s}`}
    stroke={color} strokeWidth={w} fill="none" strokeOpacity={op}
  />
);
const plusShape = (color: string, s: number, w: number, op = 1) => (p: any) => (
  <path
    d={`M${p.cx - s} ${p.cy}L${p.cx + s} ${p.cy}M${p.cx} ${p.cy - s}L${p.cx} ${p.cy + s}`}
    stroke={color} strokeWidth={w} fill="none" strokeOpacity={op}
  />
);
const diamondShape = (p: any) => (
  <path
    d={`M${p.cx} ${p.cy - 6}L${p.cx + 5} ${p.cy}L${p.cx} ${p.cy + 6}L${p.cx - 5} ${p.cy}Z`}
    fill="#ffbe1a" stroke="#ff2a00" strokeWidth={1.1}
  />
);
const circleShape = (fill: string, stroke: string, r: number, sw: number) => (p: any) => (
  <circle cx={p.cx} cy={p.cy} r={r} fill={fill} stroke={stroke} strokeWidth={sw} />
);

const range = (from: number, to: number, step: number, skip: number[]) => {
  const out: number[] = [];
  const n = Math.round((to - from) / step);
  for (let i = 0; i <= n; i++) {
    const v = Math.round((from + i * step) * 1000) / 1000;
    if (!skip.some((s) => Math.abs(s - v) < 1e-6)) out.push(v);
  }
  return out;
};

const GREY_LINE = { stroke: '#a8a8a8', strokeWidth: 0.9 };
const GC1_COLOR = '#e4a232';
const GC2_COLOR = '#2a8282';

const Title = ({ top, text }: { top: number; text: string }) => (
  <div
    style={{
      position: 'absolute', left: 44, width: 1334, top, textAlign: 'center',
      fontFamily: FONT, fontSize: 15, lineHeight: '18px', color: '#000',
    }}
  >
    {text}
  </div>
);

const Legend = () => (
  <div
    style={{
      position: 'absolute', left: 65, top: 44, width: 175, height: 92,
      border: '1px solid #333', background: '#fff', boxSizing: 'border-box',
    }}
  >
    <svg width={175} height={92} style={{ position: 'absolute', left: -1, top: -1 }}>
      <path d="M15 16L23 24M15 24L23 16" stroke={GC1_COLOR} strokeWidth={1.8} />
      <text x={38} y={26} fontSize={13} fontFamily={FONT}>gc1</text>
      <path d="M109 20L119 20M114 15L114 25" stroke={GC2_COLOR} strokeWidth={1.6} />
      <text x={133} y={26} fontSize={13} fontFamily={FONT}>gc2</text>
      <line x1={8} x2={30} y1={45} y2={45} stroke="#cfcfcf" strokeWidth={1} />
      <path d="M19 39.5L23.5 45L19 50.5L14.5 45Z" fill="#ffbe1a" stroke="#ff2a00" strokeWidth={1} />
      <text x={38} y={51} fontSize={13} fontFamily={FONT}>wfs1</text>
      <line x1={103} x2={125} y1={45} y2={45} stroke="#cfcfcf" strokeWidth={1} />
      <path d="M110 41L118 41L114 48Z" fill="#555" stroke="#333" strokeWidth={0.8} />
      <text x={133} y={51} fontSize={13} fontFamily={FONT}>wfs2</text>
      <line x1={8} x2={30} y1={70} y2={70} stroke="#0000e6" strokeWidth={2} />
      <circle cx={19} cy={70} r={3.6} fill="#e8e83c" stroke="#0000cc" strokeWidth={1.5} />
      <text x={38} y={76} fontSize={13} fontFamily={FONT}>dimm</text>
    </svg>
  </div>
);

const xAxisEl = (h: number) => (
  <XAxis
    dataKey="t" type="number" domain={X_DOMAIN} allowDataOverflow ticks={HOUR_TICKS}
    height={h} tick={<XTick />} tickLine={false} tickSize={TICK_SIZE} tickMargin={TICK_MARGIN}
    axisLine={{ stroke: '#000', strokeWidth: 1 }} interval={0}
  />
);

export default function App() {
  const topMinor = range(0.3, 4.1, 0.1, [1, 2, 3, 4]);
  const midMinor = range(-1.3, 2.5, 0.1, [-1, -0.5, 0, 0.5, 1, 1.5, 2, 2.5]);
  const botMinor = range(-0.15, 1.95, 0.05, [0, 0.5, 1, 1.5]);

  return (
    <div style={{ position: 'absolute', left: 0, top: 0, width: 1400, height: 700, background: '#fff', overflow: 'hidden' }}>
      <Title top={16} text="DIQ - 2025-03-20" />
      <Title top={372} text="Guider — WFS" />
      <Title top={539} text="BLIQ+HO+LO — BLIQ+HO" />

      {/* DIQ */}
      <div style={{ position: 'absolute', left: 0, top: 0 }}>
        <ScatterChart width={1400} height={370} margin={{ top: 40, right: 22.7, bottom: 0, left: 0 }}>
          <CartesianGrid vertical={false} horizontalValues={topMinor} stroke="#e6e6e6" strokeWidth={0.8} />
          <CartesianGrid vertical={false} horizontalValues={[1, 2, 3, 4]} stroke="#7a7a7a" strokeWidth={1} />
          {xAxisEl(31)}
          <YAxis
            dataKey="v" type="number" domain={[0.29, 4.11]} allowDataOverflow ticks={[1, 2, 3, 4]} width={44}
            tick={makeYTick((v) => String(v))} tickLine={false} tickSize={TICK_SIZE} tickMargin={TICK_MARGIN}
            axisLine={{ stroke: '#000', strokeWidth: 1 }} interval={0}
          />
          {[gc1SegA, gc1SegB, gc1SegC, gc1SegD, gc1SegE].map((seg, i) => (
            <Scatter key={`gc1-${i}`} data={pts(seg)} line={GREY_LINE} lineType="joint"
              shape={crossShape(GC1_COLOR, 4.5, 2, 0.85)} isAnimationActive={false} />
          ))}
          <Scatter data={pts(gc1Fill)} shape={crossShape(GC1_COLOR, 4.5, 2, 0.6)} isAnimationActive={false} />
          {[gc2SegA, gc2SegB, gc2SegC, gc2SegD].map((seg, i) => (
            <Scatter key={`gc2-${i}`} data={pts(seg)} line={GREY_LINE} lineType="joint"
              shape={plusShape(GC2_COLOR, 5.5, 1.7, 0.9)} isAnimationActive={false} />
          ))}
          <Scatter data={pts(gc2Fill)} shape={plusShape(GC2_COLOR, 5.5, 1.7, 0.55)} isAnimationActive={false} />
          <Scatter data={pts(wfs1Fill)} shape={diamondShape} isAnimationActive={false} />
          <Scatter data={pts(wfs1)} line={{ stroke: '#c8c8c8', strokeWidth: 1 }} lineType="joint"
            shape={diamondShape} isAnimationActive={false} />
          <Scatter data={pts(wfs2)} isAnimationActive={false} fill="#555" />
          <Scatter data={pts(dimm)} line={{ stroke: '#0000e6', strokeWidth: 2 }} lineType="joint"
            shape={circleShape('#e8e83c', '#0000cc', 3.6, 1.5)} isAnimationActive={false} />
        </ScatterChart>
      </div>

      {/* Guider — WFS */}
      <div style={{ position: 'absolute', left: 0, top: 370 }}>
        <ScatterChart width={1400} height={165} margin={{ top: 25, right: 22.7, bottom: 0, left: 0 }}>
          <CartesianGrid vertical={false} horizontalValues={midMinor} stroke="#e8e8e8" strokeWidth={0.8} />
          <CartesianGrid vertical={false} horizontalValues={[-0.5, 0.5, 1.5, 2.5]} stroke="#b4b4b4" strokeWidth={1} />
          <CartesianGrid vertical={false} horizontalValues={[-1, 0, 1, 2]} stroke="#707070" strokeWidth={1} />
          {xAxisEl(30)}
          <YAxis
            dataKey="v" type="number" domain={[-1.35, 2.53]} allowDataOverflow ticks={[-1, 0, 1, 2]} width={44}
            tick={makeYTick((v) => String(v))} tickLine={false} tickSize={TICK_SIZE} tickMargin={TICK_MARGIN}
            axisLine={{ stroke: '#000', strokeWidth: 1 }} interval={0}
          />
          <Scatter data={pts(guiderPurple)} line={{ stroke: '#c8c8c8', strokeWidth: 1 }} lineType="joint"
            shape={circleShape('#7f1d8f', '#d9b8e6', 5.2, 1)} isAnimationActive={false} />
          <Scatter data={pts(guiderRed)} line={{ stroke: '#c8c8c8', strokeWidth: 1 }} lineType="joint"
            shape={crossShape('#ff0000', 4.3, 2)} isAnimationActive={false} />
        </ScatterChart>
      </div>

      {/* BLIQ */}
      <div style={{ position: 'absolute', left: 0, top: 535 }}>
        <ScatterChart width={1400} height={165} margin={{ top: 27, right: 22.7, bottom: 0, left: 0 }}>
          <CartesianGrid vertical={false} horizontalValues={botMinor} stroke="#e8e8e8" strokeWidth={0.8} />
          <CartesianGrid vertical={false} horizontalValues={[0, 0.5, 1, 1.5]} stroke="#707070" strokeWidth={1} />
          {xAxisEl(29)}
          <YAxis
            dataKey="v" type="number" domain={[-0.18, 1.96]} allowDataOverflow ticks={[0, 0.5, 1, 1.5]} width={44}
            tick={makeYTick((v) => v.toFixed(1))} tickLine={false} tickSize={TICK_SIZE} tickMargin={TICK_MARGIN}
            axisLine={{ stroke: '#000', strokeWidth: 1 }} interval={0}
          />
          <ReferenceArea x1={BAND_X[0]} x2={BAND_X[1]} y1={BAND_Y[0]} y2={BAND_Y[1]} fill="#ff0000" fillOpacity={0.06} stroke="none" />
          <ReferenceLine segment={[{ x: BAND_X[0], y: BAND_Y[1] }, { x: BAND_X[1], y: BAND_Y[1] }]} stroke="#c0282e" strokeDasharray="4 2" strokeWidth={1.2} />
          <ReferenceLine segment={[{ x: BAND_X[0], y: BAND_Y[0] }, { x: BAND_X[1], y: BAND_Y[0] }]} stroke="#c0282e" strokeDasharray="4 2" strokeWidth={1.2} />
          <Scatter data={pts(bliq)} shape={circleShape('#0c0c78', '#c4c4e4', 4.8, 1)} isAnimationActive={false} />
        </ScatterChart>
      </div>

      <Legend />
    </div>
  );
}
